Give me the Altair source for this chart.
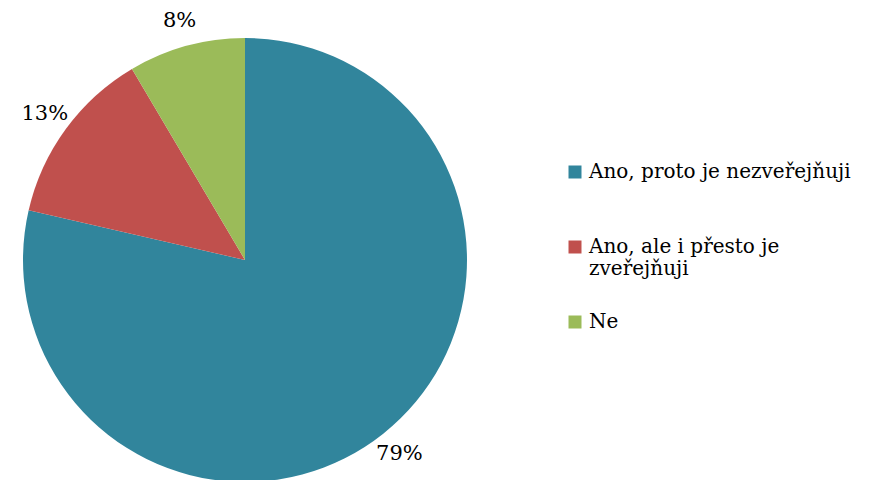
import altair as alt
import pandas as pd

categories = ["Ano, proto je nezveřejňuji", "Ano, ale i přesto je zveřejňuji", "Ne"]
values = [78.6, 12.9, 8.5]
labels = ["79%", "13%", "8%"]
colors = ["#31859C", "#C0504D", "#9BBB59"]

df = pd.DataFrame({"cat": categories, "val": values, "lab": labels, "ord": [0, 1, 2]})

FONT = "DejaVu Serif"
cx, cy = 237, 252

base = alt.Chart(df).encode(
    theta=alt.Theta("val:Q", stack=True),
    order=alt.Order("ord:Q"),
)

pie = base.mark_arc(radius=222, x=cx, y=cy, stroke=None).encode(
    color=alt.Color(
        "cat:N",
        scale=alt.Scale(domain=categories, range=colors),
        sort=categories,
        legend=alt.Legend(
            title=None,
            orient="none",
            legendX=557,
            legendY=154,
            symbolType="square",
            symbolSize=169,
            symbolStrokeWidth=0,
            labelFont=FONT,
            labelFontSize=20,
            labelColor="#000000",
            labelLimit=400,
            labelOffset=4,
            rowPadding=33,
            labelExpr="datum.label == 'Ano, ale i přesto je zveřejňuji' ? ['Ano, ale i přesto je', 'zveřejňuji'] : datum.label == 'Ano, proto je nezveřejňuji' ? ['Ano, proto je nezveřejňuji', ''] : datum.label",
        ),
    )
)

text = base.mark_text(radius=248, x=cx, y=cy, font=FONT, fontSize=21, color="#000000").encode(
    text="lab:N"
)

chart = (pie + text).properties(
    width=853, height=472, padding=0, autosize=alt.AutoSizeParams(type="none")
).configure_view(stroke=None)

chart.save("out.html", embed_options={"renderer": "svg", "actions": False})
